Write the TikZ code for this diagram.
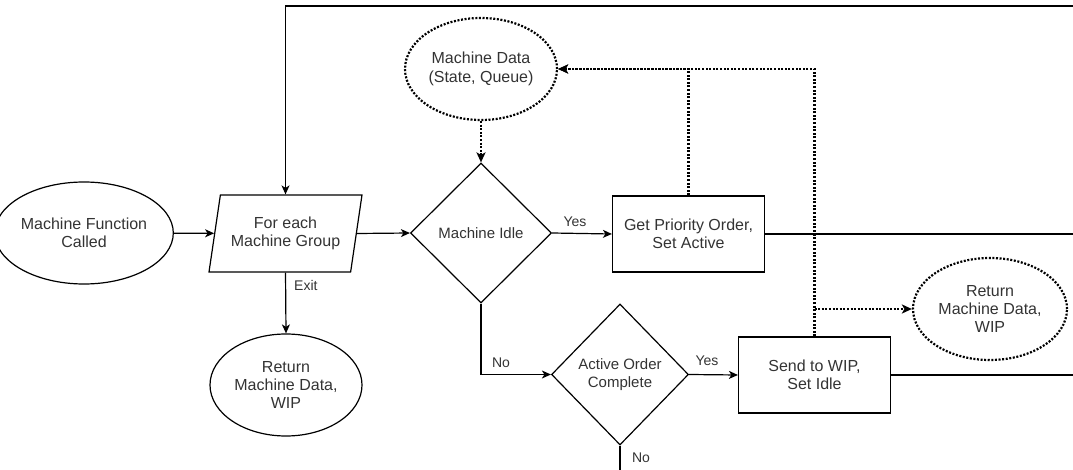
\documentclass[tikz,border=0pt]{standalone}
\usepackage{fontspec}
\setmainfont{Liberation Sans}
\usetikzlibrary{shapes.geometric,arrows.meta}
\definecolor{txt}{HTML}{333333}
\tikzset{
  base/.style={draw=black, line width=1.2pt, text=txt, align=center, inner sep=0pt,
    font=\fontsize{16}{18.4}\selectfont},
  term/.style={base, ellipse, minimum width=152pt, minimum height=102pt},
  store/.style={term, line width=2.2pt, dash pattern=on 2pt off 1.6pt},
  procbox/.style={base, rectangle, minimum width=152pt, minimum height=76pt},
  decide/.style={base, diamond, font=\fontsize{15}{17.5}\selectfont},
  loopbox/.style={base, trapezium, trapezium left angle=74, trapezium right angle=106,
    trapezium stretches=true, minimum width=153pt, minimum height=77pt},
  flow/.style={line width=1.2pt, -{Stealth[length=9pt, width=8pt, inset=2.5pt]}},
  plain/.style={line width=1.2pt},
  dataflow/.style={line width=2.2pt, dash pattern=on 2pt off 1.6pt,
    -{Stealth[length=10pt, width=9pt, inset=2.5pt]}},
  lbl/.style={text=txt, inner sep=0pt, font=\fontsize{14}{16}\selectfont}
}
\begin{document}
\begin{tikzpicture}[x=1pt, y=-1pt]
\useasboundingbox (0,0) rectangle (1073,470);

% process nodes
\node[term]  (start)  at (84,233)   {Machine Function\\Called};
\node[loopbox] (loop) at (285.5,233.5) {For each\\Machine Group};
\node[term]  (ret1)   at (286,385)  {Return\\Machine Data,\\WIP};
\node[decide, minimum width=141pt, minimum height=140pt] (idle) at (481,233) {Machine Idle};
\node[store] (data)   at (481,69)   {Machine Data\\(State, Queue)};
\node[procbox] (prio) at (688.5,234) {Get Priority Order,\\Set Active};
\node[decide, minimum width=137pt, minimum height=141pt] (active) at (620,374.5) {Active Order\\Complete};
\node[procbox] (send) at (814.5,375) {Send to WIP,\\Set Idle};
\node[store, minimum width=154pt] (ret2) at (990,309) {Return\\Machine Data,\\WIP};

% off-page ends of the loop-back lines
\coordinate (topR)  at (1073,6);
\coordinate (prioR) at (1073,234);
\coordinate (sendR) at (1073,375);
\coordinate (downB) at (620,470);
\coordinate (tap)   at (send.north |- ret2.west);

% control flow
\draw[flow] (start) -- (loop);
\draw[flow] (topR) -| (loop.north);
\draw[flow] (loop.east) -- (idle.west);
\draw[flow] (loop.south) -- (ret1.north);
\draw[flow] (idle.east) -- (prio.west);
\draw[flow] (idle.south) |- (active.west);
\draw[flow] (active.east) -- (send.west);
\draw[plain] (prio.east) -- (prioR);
\draw[plain] (send.east) -- (sendR);
\draw[plain] (active.south) -- (downB);

% data flow
\draw[dataflow] (data.south) -- (idle.north);
\draw[dataflow] (prio.north) |- (data.east);
\draw[dataflow] (send.north) |- (data.east);
\draw[dataflow] (tap) -- (ret2.west);

% branch labels
\node[lbl, anchor=west] (exitL) at (294,285) {Exit};
\node[lbl] (yes1) at (575,222) {Yes};
\node[lbl] (no1)  at (501,363) {No};
\node[lbl] (yes2) at (707,361) {Yes};
\node[lbl] (no2)  at (641,458) {No};
\end{tikzpicture}
\end{document}
